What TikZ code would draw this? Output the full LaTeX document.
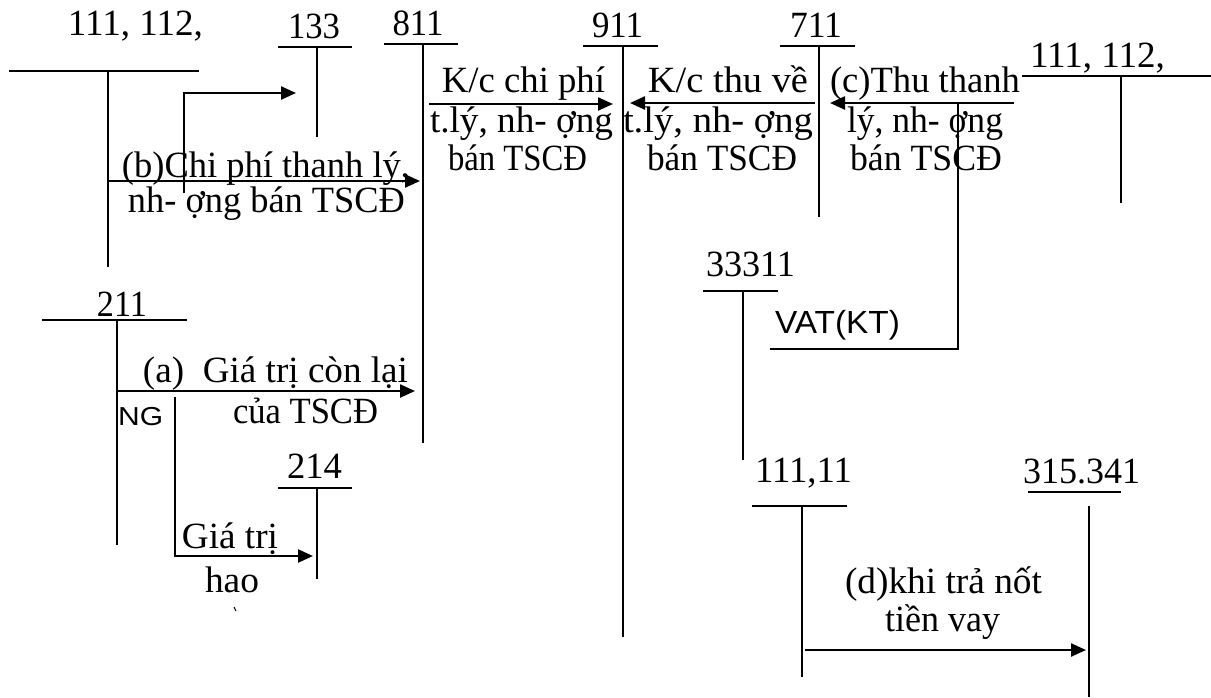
\documentclass[tikz,border=0pt]{standalone}
\usepackage{fontspec}
\usepackage{graphicx}
\setmainfont{Liberation Serif}
\newfontfamily\sansf{Liberation Sans}
\usetikzlibrary{arrows.meta}
\newcommand{\fitw}[2]{\resizebox{#1}{\height}{#2}}
\begin{document}
\begin{tikzpicture}[x=1pt,y=-1pt,
  acct/.style={line width=1.3pt},
  topacct/.style={line width=2pt},
  flow/.style={line width=2.4pt,-{Triangle[length=15pt,width=13pt]}},
  thin/.style={line width=1.3pt},
  lbl/.style={font=\fontsize{37}{42}\selectfont,inner sep=0pt,anchor=base},
  num/.style={font=\fontsize{37}{42}\selectfont,inner sep=0pt,anchor=base},
  sml/.style={font=\sansf\fontsize{26}{30}\selectfont,inner sep=0pt,anchor=base}]
\useasboundingbox[fill=white] (0,0) rectangle (1211,697);

% ---------- account labels ----------
\node[num] (n111L) at (135.5,35) {\fitw{135pt}{111, 112,}};
\node[num] (n133) at (314,38) {\fitw{52pt}{133}};
\node[num] (n811) at (418,35) {\fitw{51pt}{811}};
\node[num] (n911) at (617.5,37) {\fitw{51pt}{911}};
\node[num] (n711) at (816,37) {\fitw{52pt}{711}};
\node[num] (n111R) at (1097.5,67) {\fitw{135pt}{111, 112,}};
\node[num] (n33311) at (750.5,276) {\fitw{89pt}{33311}};
\node[num] (n211) at (122,316) {\fitw{50pt}{211}};
\node[num] (n214) at (314.5,478) {\fitw{55pt}{214}};
\node[num] (n11111) at (803.5,482) {\fitw{97pt}{111,11}};
\node[num] (n315) at (1081.5,483) {\fitw{117pt}{315.341}};

% ---------- T-account coordinates ----------
\coordinate (a1l) at (9,71);   \coordinate (a1r) at (199,71);
\coordinate (a1t) at (108,71); \coordinate (a1b) at (108,267);
\coordinate (a2l) at (278,47); \coordinate (a2r) at (352,47);
\coordinate (a2t) at (317,47); \coordinate (a2b) at (317,137);
\coordinate (a3l) at (384,44); \coordinate (a3r) at (458,44);
\coordinate (a3t) at (423,44); \coordinate (a3b) at (423,443);
\coordinate (a4l) at (583,46); \coordinate (a4r) at (658,46);
\coordinate (a4t) at (623,46); \coordinate (a4b) at (623,637);
\coordinate (a5l) at (780,46); \coordinate (a5r) at (855,46);
\coordinate (a5t) at (819,46); \coordinate (a5b) at (819,217);
\coordinate (a6l) at (1022,76); \coordinate (a6r) at (1211,76);
\coordinate (a6t) at (1121,76); \coordinate (a6b) at (1121,203);
\coordinate (a7l) at (703,291); \coordinate (a7r) at (778,291);
\coordinate (a7t) at (743,291); \coordinate (a7b) at (743,460);
\coordinate (a8l) at (42,320);  \coordinate (a8r) at (187,320);
\coordinate (a8t) at (117,320); \coordinate (a8b) at (117,545);
\coordinate (a9l) at (278,488); \coordinate (a9r) at (352,488);
\coordinate (a9t) at (317,488); \coordinate (a9b) at (317,579);
\coordinate (a10l) at (752,506); \coordinate (a10r) at (847,506);
\coordinate (a10t) at (802,506); \coordinate (a10b) at (802,677);
\coordinate (a11l) at (1028,492); \coordinate (a11r) at (1121,492);
\coordinate (a11t) at (1089,506); \coordinate (a11b) at (1089,697);

\draw[topacct] (a1l) -- (a1r);
\draw[acct] (a1t) -- (a1b);
\foreach \i in {2,...,11}{
  \draw[acct] (a\i l) -- (a\i r);
  \draw[acct] (a\i t) -- (a\i b);
}

% ---------- flows ----------
\coordinate (bS) at (108,181); \coordinate (bE) at (420,181);
\draw[flow] (bS) -- (bE);
\coordinate (b2S) at (184,193); \coordinate (b2M) at (184,93); \coordinate (b2E) at (296,93);
\draw[flow] (b2S) -- (b2M) -- (b2E);

\coordinate (k1S) at (429,104); \coordinate (k1E) at (613,104);
\draw[flow] (k1S) -- (k1E);
\coordinate (k2S) at (815,103); \coordinate (k2E) at (630,103);
\draw[flow] (k2S) -- (k2E);
\coordinate (cS) at (1014,103); \coordinate (cE) at (830,103);
\draw[flow] (cS) -- (cE);

\coordinate (vS) at (958,103); \coordinate (vM) at (958,349); \coordinate (vE) at (770,349);
\draw[thin] (vS) -- (vM) -- (vE);

\coordinate (aS) at (117,391); \coordinate (aE) at (415,391);
\draw[flow] (aS) -- (aE);
\coordinate (hS) at (175,397); \coordinate (hM) at (175,556); \coordinate (hE) at (313,556);
\draw[flow] (hS) -- (hM) -- (hE);

\coordinate (dS) at (805,650); \coordinate (dE) at (1086,650);
\draw[flow] (dS) -- (dE);

% ---------- labels ----------
\node[lbl] (tb1) at (266,177) {\fitw{288pt}{(b)Chi phí thanh lý,}};
\node[lbl] (tb2) at (266.5,212) {\fitw{277pt}{nh- ợng bán TSCĐ}};

\node[lbl] (tk1) at (523.5,92) {\fitw{163pt}{K/c chi phí}};
\node[lbl] (tk2) at (521.5,132) {\fitw{183pt}{t.lý, nh- ợng}};
\node[lbl] (tk3) at (517.5,170) {\fitw{139pt}{bán TSCĐ}};

\node[lbl] (tt1) at (728,92) {\fitw{160pt}{K/c thu về}};
\node[lbl] (tt2) at (718,132) {\fitw{190pt}{t.lý, nh- ợng}};
\node[lbl] (tt3) at (722,170) {\fitw{150pt}{bán TSCĐ}};

\node[lbl] (tc1) at (925,92) {\fitw{190pt}{(c)Thu thanh}};
\node[lbl] (tc2) at (925,132) {\fitw{156pt}{lý, nh- ợng}};
\node[lbl] (tc3) at (926,170) {\fitw{152pt}{bán TSCĐ}};

\node[sml] (tvat) at (837.5,333) {\fitw{125pt}{\fontsize{32}{36}\selectfont VAT(KT)}};

\node[lbl] (ta1) at (275.5,382) {\fitw{265pt}{(a)\ \ Giá trị còn lại}};
\node[lbl] (ta2) at (305.5,423) {\fitw{145pt}{của TSCĐ}};
\node[sml,anchor=base west] (tng) at (118,425) {\fitw{45pt}{NG}};

\node[lbl] (th1) at (230,548) {\fitw{96pt}{Giá trị}};
\node[lbl] (th2) at (232,592) {\fitw{54pt}{hao}};
\coordinate (mk1) at (234,607); \coordinate (mk2) at (236,611);
\draw[line width=1pt] (mk1) -- (mk2);

\node[lbl] (td1) at (943.5,593) {\fitw{197pt}{(d)khi trả nốt}};
\node[lbl] (td2) at (942.5,631) {\fitw{115pt}{tiền vay}};
\end{tikzpicture}
\end{document}
